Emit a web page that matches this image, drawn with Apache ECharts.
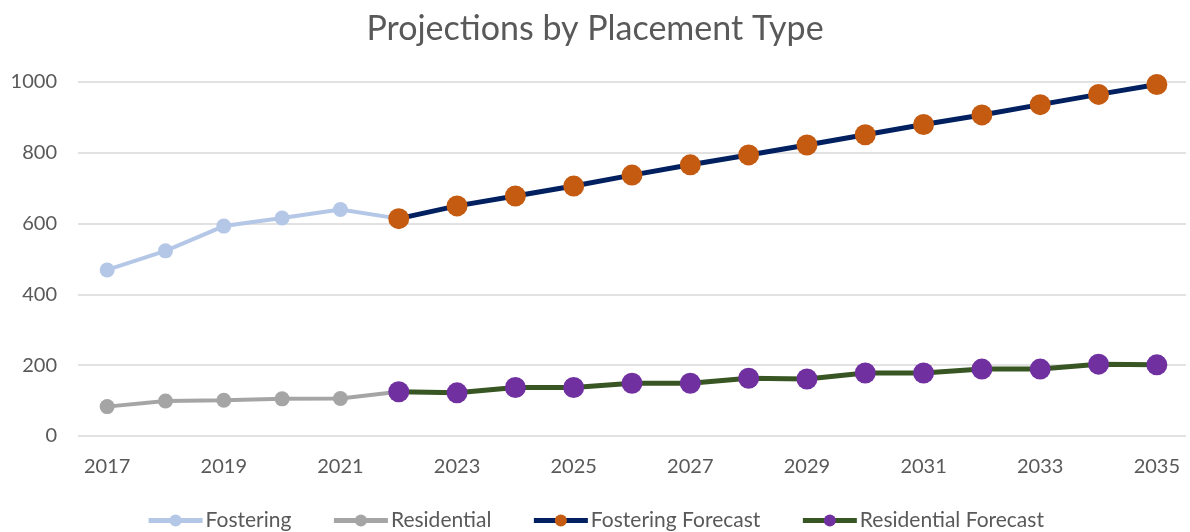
<!DOCTYPE html>
<html>
<head>
<meta charset="utf-8">
<script src="https://cdn.jsdelivr.net/npm/echarts@6/dist/echarts.min.js"></script>
<style>
  html, body { margin: 0; padding: 0; background: #fff; }
  #chart { width: 1190px; height: 532px; }
</style>
</head>
<body>
<div id="chart"></div>
<script>
const years = ['2017', '2018', '2019', '2020', '2021', '2022', '2023', '2024', '2025', '2026',
    '2027', '2028', '2029', '2030', '2031', '2032', '2033', '2034', '2035'];

// actuals (2017-2022)
const fostering = [469, 523, 593, 616, 640, 614];
const residential = [83, 99, 101, 105, 106, 125];

// forecasts (2022-2035)
const fosteringForecast = [614, 650, 678, 706, 737, 766, 794, 822, 851, 880, 907, 936, 965, 993];
const residentialForecast = [125, 122, 137, 137, 149, 149, 163, 161, 178, 178, 189, 189, 203, 201];

const yTicks = { min: 0, max: 1000, interval: 200 };

// forecasts start at 2022, pad front with nulls
function padFront(arr) {
    return new Array(years.length - arr.length).fill(null).concat(arr);
}

const font = 'Lato, "Open Sans", sans-serif';

const chart = echarts.init(document.getElementById('chart'), null, { renderer: 'canvas' });
chart.setOption({
    animation: false,
    title: {
        text: 'Projections by Placement Type',
        left: 'center',
        top: 7,
        textStyle: { fontFamily: font, fontSize: 34, fontWeight: 'normal', color: '#595959' }
    },
    legend: {
        bottom: -4,
        left: 'center',
        itemWidth: 54,
        itemHeight: 15,
        itemGap: 40,
        lineStyle: { width: 5 },
        textStyle: { fontFamily: font, fontSize: 21, color: '#595959', padding: [0, 0, 0, -2] },
        data: ['Fostering', 'Residential', 'Fostering Forecast', 'Residential Forecast']
    },
    grid: { left: 78, right: 4, top: 82, bottom: 96 },
    xAxis: {
        type: 'category',
        data: years,
        boundaryGap: true,
        axisLine: { show: false },
        axisTick: { show: false },
        axisLabel: { interval: 1, fontFamily: font, fontSize: 20, color: '#595959', margin: 21 }
    },
    yAxis: {
        type: 'value',
        min: yTicks.min,
        max: yTicks.max,
        interval: yTicks.interval,
        axisLine: { show: false },
        axisTick: { show: false },
        axisLabel: { fontFamily: font, fontSize: 20, color: '#595959', margin: 21, formatter: v => String(v) },
        splitLine: { lineStyle: { color: '#d9d9d9', width: 1.5 } }
    },
    series: [
        {
            name: 'Fostering',
            type: 'line',
            data: fostering,
            symbol: 'circle',
            symbolSize: 15,
            lineStyle: { color: '#b4c7e7', width: 4 },
            itemStyle: { color: '#b4c7e7' }
        },
        {
            name: 'Residential',
            type: 'line',
            data: residential,
            symbol: 'circle',
            symbolSize: 15,
            lineStyle: { color: '#a5a5a5', width: 4 },
            itemStyle: { color: '#a5a5a5' }
        },
        {
            name: 'Fostering Forecast',
            type: 'line',
            data: padFront(fosteringForecast),
            symbol: 'circle',
            symbolSize: 21,
            lineStyle: { color: '#002060', width: 5 },
            itemStyle: { color: '#c55a11' }
        },
        {
            name: 'Residential Forecast',
            type: 'line',
            data: padFront(residentialForecast),
            symbol: 'circle',
            symbolSize: 21,
            lineStyle: { color: '#375623', width: 5 },
            itemStyle: { color: '#7030a0' }
        }
    ]
});
</script>
</body>
</html>
